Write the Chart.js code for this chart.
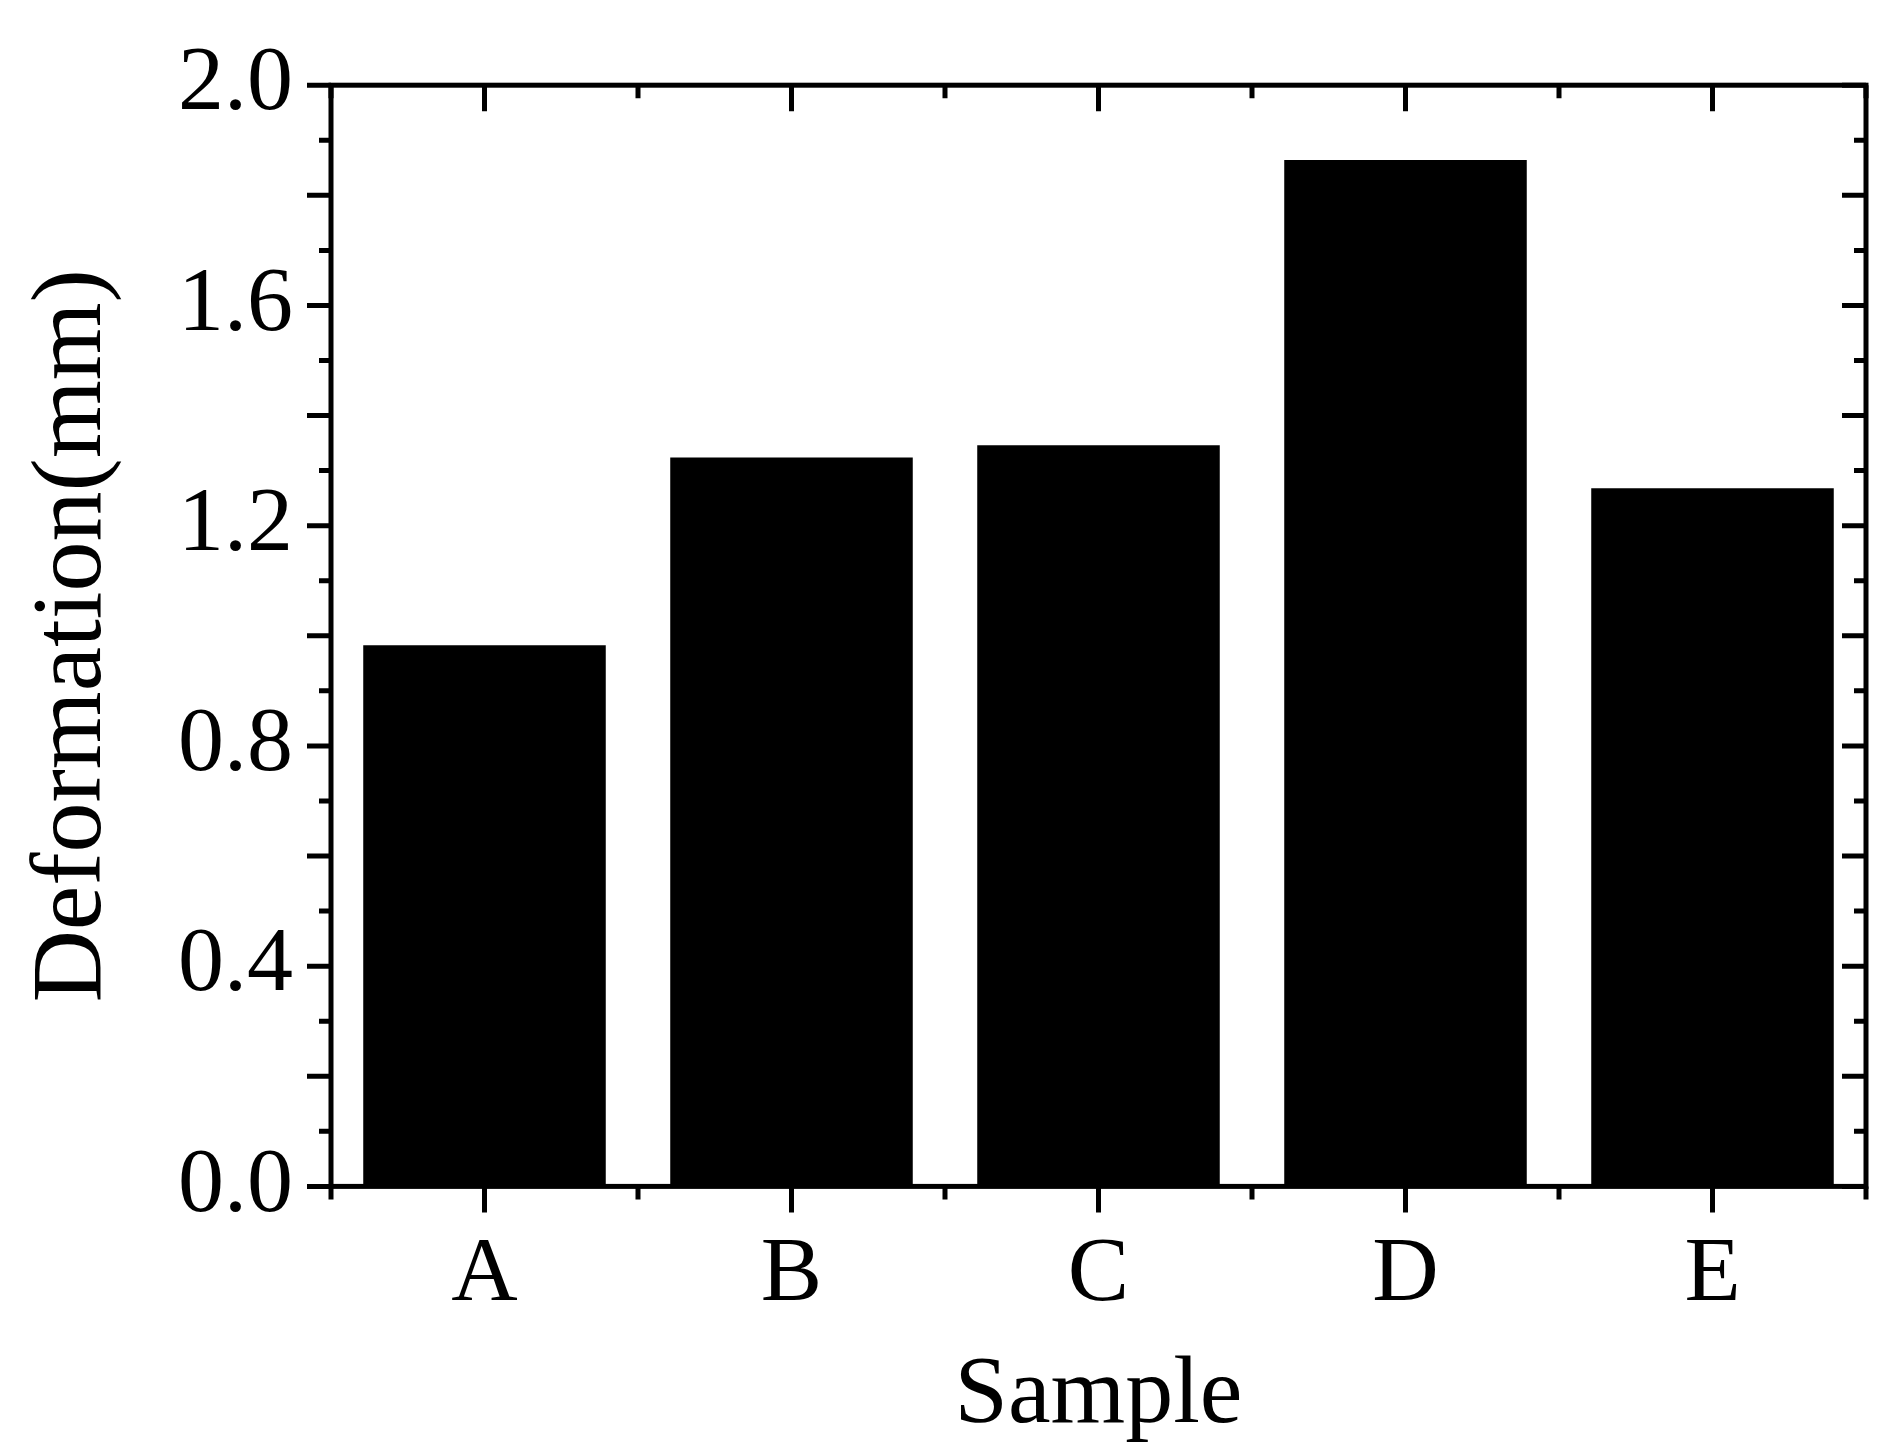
<!DOCTYPE html>
<html><head><meta charset="utf-8">
<script src="https://cdn.jsdelivr.net/npm/chart.js@4/dist/chart.umd.min.js"></script>
<style>html,body{margin:0;padding:0;background:#fff}#w{width:1888px;height:1454px}</style>
</head><body><div id="w"><canvas id="c"></canvas></div>
<script>
const categories = ["A","B","C","D","E"];
const deformation = [0.983, 1.324, 1.346, 1.864, 1.268];
const yTicks = [0,0.2,0.4,0.6,0.8,1.0,1.2,1.4,1.6,1.8,2.0];

const frame = {
  id:'frame',
  afterDraw(chart){
    const {ctx, chartArea:a, scales:{x,y}} = chart;
    ctx.save();
    ctx.strokeStyle='#000'; ctx.lineWidth=5; ctx.lineCap='butt';
    ctx.strokeRect(a.left,a.top,a.right-a.left,a.bottom-a.top);
    ctx.beginPath();
    for(let i=0;i<=20;i++){
      const v=i/10, p=y.getPixelForValue(v), L=(i%2===0)?24:12;
      ctx.moveTo(a.left-L,p); ctx.lineTo(a.left,p);
      ctx.moveTo(a.right,p); ctx.lineTo(a.right-L,p);
    }
    const step=x.getPixelForValue(1)-x.getPixelForValue(0);
    for(let i=0;i<categories.length;i++){
      const p=x.getPixelForValue(i);
      ctx.moveTo(p,a.bottom); ctx.lineTo(p,a.bottom+26);
      ctx.moveTo(p,a.top); ctx.lineTo(p,a.top+26);
    }
    for(let i=0;i<=categories.length;i++){
      const p=x.getPixelForValue(0)-step/2+i*step;
      ctx.moveTo(p,a.bottom); ctx.lineTo(p,a.bottom+13);
      ctx.moveTo(p,a.top); ctx.lineTo(p,a.top+13);
    }
    ctx.stroke();
    ctx.restore();
  }
};

new Chart(document.getElementById('c'),{
  type:'bar',
  data:{labels:categories,datasets:[{data:deformation,backgroundColor:'#000',borderWidth:0,categoryPercentage:1,barPercentage:0.79}]},
  options:{
    responsive:true,maintainAspectRatio:false,animation:false,
    devicePixelRatio:1,
    layout:{padding:{top:12,right:22,left:14,bottom:0}},
    plugins:{legend:{display:false},tooltip:{enabled:false}},
    scales:{
      x:{grid:{display:false},border:{display:false},
        ticks:{color:'#000',font:{family:'Liberation Serif',size:92},padding:26},
        title:{display:true,text:'Sample',color:'#000',font:{family:'Liberation Serif',size:96},padding:{top:-18,bottom:0}}},
      y:{min:0,max:2,grid:{display:false},border:{display:false},
        afterBuildTicks(s){s.ticks=yTicks.map(v=>({value:v}));},
        ticks:{color:'#000',font:{family:'Liberation Serif',size:92},padding:30,callback:v=>Number(v).toFixed(1)},
        title:{display:true,text:'Deformation(mm)',color:'#000',font:{family:'Liberation Serif',size:100},padding:{top:0,bottom:14}}}
    }
  },
  plugins:[frame]
});
</script></body></html>
